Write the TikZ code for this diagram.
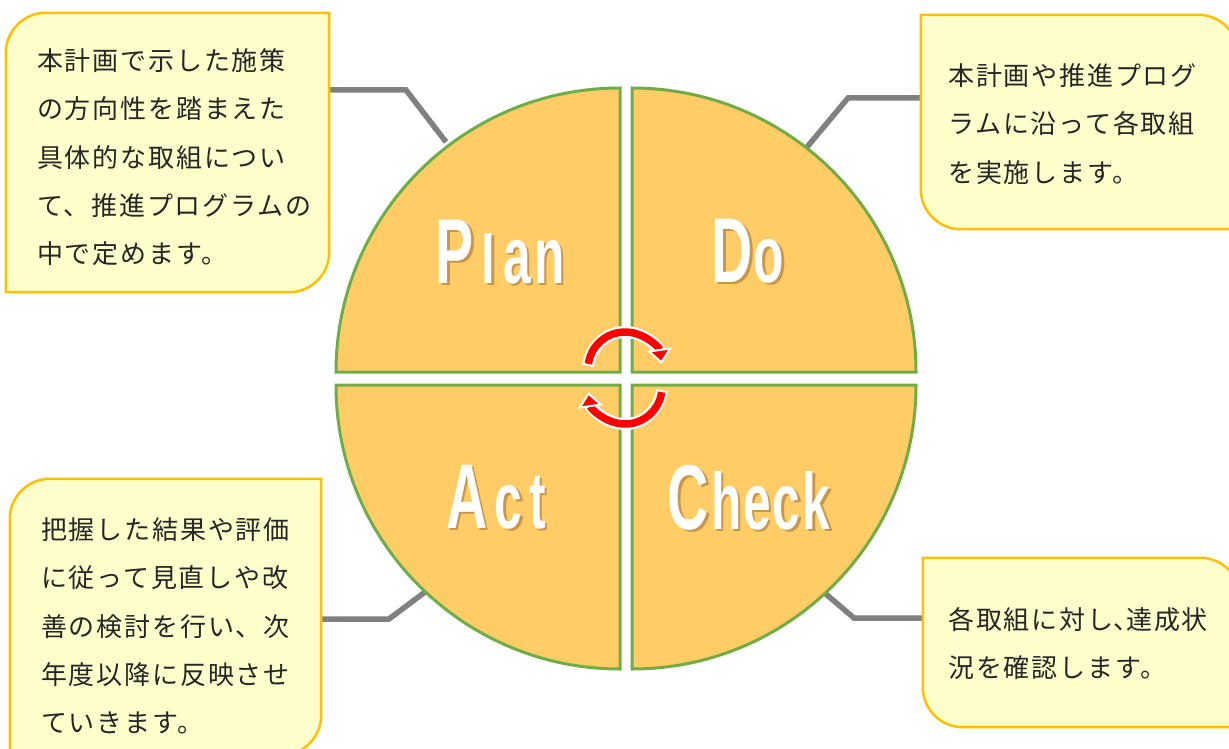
\documentclass[tikz,border=0pt]{standalone}
\usepackage{fontspec}
\usetikzlibrary{arrows.meta,calc}
\newfontfamily\jfont[LetterSpace=7]{Noto Sans CJK JP}
\newfontfamily\jfontnarrow[RawFeature=+palt]{Noto Sans CJK JP}
\newfontfamily\wfont{Liberation Sans}
\newcommand{\jlines}[1]{\parbox[t]{295pt}{\fontsize{26pt}{48.3pt}\jfont\raggedright #1}}
\newcommand{\capl}[1]{\scalebox{0.62}[1]{\fontsize{92pt}{92pt}\selectfont #1}}
\newcommand{\lowl}[1]{\scalebox{0.62}[1]{\fontsize{80pt}{80pt}\selectfont #1}}
\newcommand{\shadowed}[1]{\rlap{\hspace{2.5pt}\raisebox{-2.5pt}{\color{shadowc}#1}}#1}
\definecolor{qfill}{HTML}{FFCC66}
\definecolor{qline}{HTML}{70AD47}
\definecolor{bfill}{HTML}{FFFFCC}
\definecolor{bline}{HTML}{FFC000}
\definecolor{connc}{HTML}{808080}
\definecolor{jtxt}{HTML}{262626}
\definecolor{shadowc}{HTML}{C8974A}
\tikzset{
  quad/.style={fill=qfill, draw=qline, line width=3pt},
  boxn/.style={draw=none, inner sep=0pt},
  boxline/.style={draw=bline, fill=bfill, line width=2.5pt},
  conn/.style={draw=connc, line width=5.5pt},
  jtext/.style={inner sep=0pt, text=jtxt, anchor=base west},
  word/.style={inner sep=0pt, anchor=base, text=white, font=\wfont\bfseries},
  arrunder/.style={draw=white, line width=12pt, shorten >=12pt, shorten <=-2pt},
  arrred/.style={draw=red, line width=7.5pt, -{Triangle[length=15pt,width=25pt,color=white,fill=red,line width=2pt]}},
}
\begin{document}
\begin{tikzpicture}[x=1pt,y=-1pt]
\useasboundingbox[fill=white] (0,0) rectangle (1229,749);

% box nodes
\node[boxn, minimum width=323pt, minimum height=279pt] (b1) at (167.5,152.5) {};
\node[boxn, minimum width=317pt, minimum height=214pt] (b2) at (1079.5,122) {};
\node[boxn, minimum width=311pt, minimum height=276pt] (b3) at (165.5,617) {};
\node[boxn, minimum width=317pt, minimum height=169pt] (b4) at (1081.5,642.5) {};

% connector coordinates
\coordinate (k1) at (406,90);  \coordinate (p1) at (446,142);
\coordinate (k2) at (848,98);  \coordinate (p2) at (807,147);
\coordinate (k3) at (389,619); \coordinate (p3) at (425,592);
\coordinate (k4) at (854,618); \coordinate (p4) at (820,589);

% connectors
\draw[conn] (b1.east |- k1) -- (k1) -- (p1);
\draw[conn] (b2.west |- k2) -- (k2) -- (p2);
\draw[conn] (b3.east |- k3) -- (k3) -- (p3);
\draw[conn] (b4.west |- k4) -- (k4) -- (p4);

% quadrants
\draw[quad] (620,372) -- (336,372) arc[start angle=180, end angle=90, radius=284pt] -- cycle;
\draw[quad] (632,372) -- (632,88) arc[start angle=90, end angle=0, radius=284pt] -- cycle;
\draw[quad] (620,385) -- (620,669) arc[start angle=270, end angle=180, radius=284pt] -- cycle;
\draw[quad] (632,385) -- (916,385) arc[start angle=0, end angle=-90, radius=284pt] -- cycle;

% words
\node[word] (plan) at (500,283) {\shadowed{\capl{P}\hspace{8pt}\raisebox{0pt}{\scalebox{1}[0.86]{\lowl{l}}}\hspace{8pt}\lowl{a}\hspace{3pt}\lowl{n}}};
\node[word] (do) at (748,282) {\shadowed{\capl{D}\hspace{1pt}\lowl{o}}};
\node[word] (act) at (496,528) {\shadowed{\capl{A}\hspace{7pt}\lowl{c}\hspace{7pt}\lowl{t}}};
\node[word] (check) at (749,529) {\shadowed{\capl{C}\hspace{2pt}\lowl{h}\hspace{2pt}\lowl{e}\hspace{2pt}\lowl{c}\hspace{2pt}\lowl{k}}};

% cycle arrows
\coordinate (a1) at ($(625,369)+(172:37pt)$);
\coordinate (a2) at ($(625,387)+(-8:37pt)$);
\draw[arrunder] (a1) arc[start angle=172, end angle=8, radius=37pt];
\draw[arrred] (a1) arc[start angle=172, end angle=8, radius=37pt];
\draw[arrunder] (a2) arc[start angle=-8, end angle=-172, radius=37pt];
\draw[arrred] (a2) arc[start angle=-8, end angle=-172, radius=37pt];

% boxes
\draw[boxline] (b1.south west) -- ([yshift=-40pt]b1.north west) arc[start angle=180, end angle=90, radius=40pt] -- (b1.north east) -- ([yshift=40pt]b1.south east) arc[start angle=0, end angle=-90, radius=40pt] -- cycle;
\draw[boxline] (b2.north west) -- ([xshift=-40pt]b2.north east) arc[start angle=90, end angle=0, radius=40pt] -- (b2.south east) -- ([xshift=40pt]b2.south west) arc[start angle=270, end angle=180, radius=40pt] -- cycle;
\draw[boxline] (b3.south west) -- ([yshift=-40pt]b3.north west) arc[start angle=180, end angle=90, radius=40pt] -- (b3.north east) -- ([yshift=40pt]b3.south east) arc[start angle=0, end angle=-90, radius=40pt] -- cycle;
\draw[boxline] (b4.north west) -- ([xshift=-40pt]b4.north east) arc[start angle=90, end angle=0, radius=40pt] -- (b4.south east) -- ([xshift=40pt]b4.south west) arc[start angle=270, end angle=180, radius=40pt] -- cycle;

% box texts
\node[jtext] (t1) at (37,70.5) {\jlines{本計画で示した施策\\の方向性を踏まえた\\具体的な取組につい\\て、推進プログラムの\\中で定めます。}};
\node[jtext] (t2) at (948,85.5) {\jlines{本計画や推進プログ\\ラムに沿って各取組\\を実施します。}};
\node[jtext] (t3) at (41,539.5) {\jlines{把握した結果や評価\\に従って見直しや改\\善の検討を行い、次\\年度以降に反映させ\\ていきます。}};
\node[jtext] (t4) at (948,629.5) {\jlines{各取組に対し{\jfontnarrow 、}達成状\\況を確認します。}};
\end{tikzpicture}
\end{document}
